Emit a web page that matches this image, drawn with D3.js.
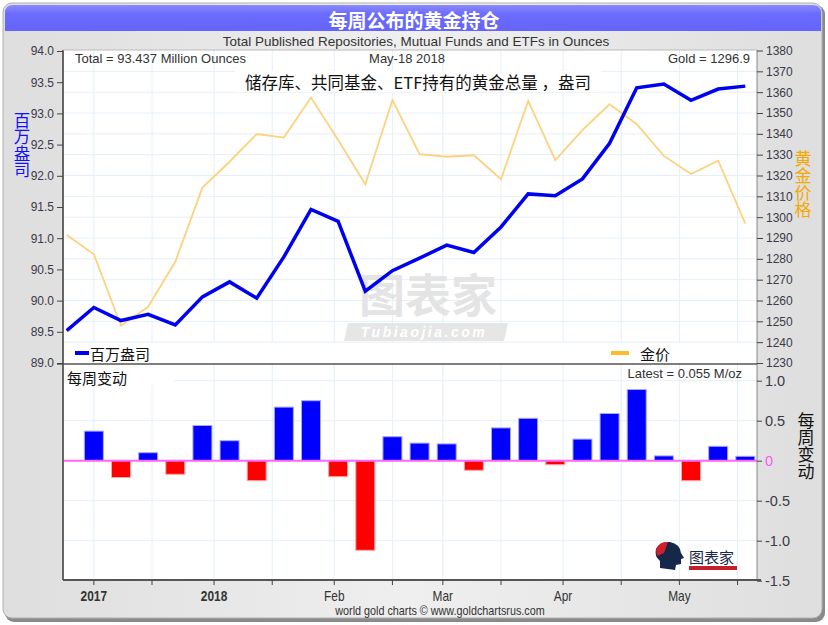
<!DOCTYPE html>
<html><head><meta charset="utf-8">
<script src="https://cdn.jsdelivr.net/npm/d3@7/dist/d3.min.js"></script>
<style>
html,body{margin:0;padding:0;background:#fff;}
svg{display:block;}
text{font-family:"Liberation Sans",Arial,sans-serif;}
.cjk{font-family:"Noto Sans CJK SC","Liberation Sans",sans-serif;}
.vert{writing-mode:vertical-rl;text-orientation:upright;}
</style></head>
<body>
<svg id="c" width="828" height="625"></svg>
<script>
// ---------- data ----------
const dates = ["2017-11-24","2017-12-01","2017-12-08","2017-12-15","2017-12-22","2017-12-29",
  "2018-01-05","2018-01-12","2018-01-19","2018-01-26","2018-02-02","2018-02-09","2018-02-16",
  "2018-02-23","2018-03-02","2018-03-09","2018-03-16","2018-03-23","2018-03-30","2018-04-06",
  "2018-04-13","2018-04-20","2018-04-27","2018-05-04","2018-05-11","2018-05-18"];
const holdings = [89.52,89.89,89.68,89.78,89.61,90.06,90.30,90.04,90.70,91.46,91.27,90.15,90.48,
  90.68,90.89,90.77,91.18,91.71,91.68,91.95,92.52,93.41,93.47,93.21,93.39,93.437];
const goldPrice = [1291.4,1282.2,1247.9,1257.0,1278.6,1314.2,1326.6,1339.9,1338.2,1357.4,1337.0,
  1315.8,1356.2,1330.2,1329.0,1329.7,1318.2,1355.8,1327.4,1341.8,1354.2,1344.6,1329.4,1320.7,1327.1,1296.9];
const changeDates = dates.slice(1);
const weeklyChange = [0.37,-0.21,0.10,-0.17,0.44,0.25,-0.25,0.67,0.75,-0.20,-1.12,0.30,0.22,0.21,
  -0.12,0.41,0.53,-0.05,0.27,0.59,0.89,0.06,-0.25,0.18,0.055];
const majorTickDates = ["2017-12-01","2018-01-01","2018-02-01","2018-03-01","2018-04-01","2018-05-01"];
const majorTickLabels = ["2017","2018","Feb","Mar","Apr","May"];
const minorTickDates = ["2017-12-16","2018-01-16","2018-02-16","2018-03-16","2018-04-16","2018-05-16"];
const leftTicks = [89.0,89.5,90.0,90.5,91.0,91.5,92.0,92.5,93.0,93.5,94.0];
const rightTicks = [1230,1240,1250,1260,1270,1280,1290,1300,1310,1320,1330,1340,1350,1360,1370,1380];
const lowerTicks = [1.0,0.5,0,-0.5,-1.0,-1.5];
const lowerTickLabels = ["1.0","0.5","0","-0.5","-1.0","-1.5"];

// ---------- setup ----------
const parse = d3.utcParse("%Y-%m-%d");
const svg = d3.select("#c");
const L = 63, R = 757, T1 = 50, B1 = 364, B2 = 580;

const x = d3.scaleUtc().domain([parse(dates[0]), parse(dates[dates.length-1])]).range([66.7, 745.3]);
const yL = d3.scaleLinear().domain([89, 94]).range([363, 51]);
const yR = d3.scaleLinear().domain([1230, 1380]).range([363, 50.5]);
const yB = d3.scaleLinear().domain([-1.5, 1.0]).range([580.7, 380.7]);

// ---------- frame ----------
const defs = svg.append("defs");
const bg = defs.append("linearGradient").attr("id","bg").attr("x1",0).attr("y1",0).attr("x2",1).attr("y2",0);
bg.append("stop").attr("offset","0%").attr("stop-color","#dedede");
bg.append("stop").attr("offset","50%").attr("stop-color","#efefef");
bg.append("stop").attr("offset","100%").attr("stop-color","#dedede");
const tb = defs.append("linearGradient").attr("id","tb").attr("x1",0).attr("y1",0).attr("x2",0).attr("y2",1);
tb.append("stop").attr("offset","0%").attr("stop-color","#8a8aff");
tb.append("stop").attr("offset","35%").attr("stop-color","#6b6bff");
tb.append("stop").attr("offset","100%").attr("stop-color","#6464fa");

svg.append("rect").attr("x",5).attr("y",5).attr("width",820).attr("height",617).attr("rx",9).attr("fill","#8a8a8a");
svg.append("rect").attr("x",3).attr("y",3).attr("width",819).attr("height",615).attr("rx",9)
  .attr("fill","url(#bg)").attr("stroke","#b0b0b0").attr("stroke-width",1);
svg.append("path").attr("d","M5,31 L5,13 Q5,5 13,5 L813,5 Q821,5 821,13 L821,31 Z").attr("fill","url(#tb)");
svg.append("text").attr("class","cjk").attr("x",414).attr("y",19).attr("text-anchor","middle")
  .attr("dominant-baseline","central").attr("fill","#fff").attr("font-size",19).attr("font-weight","bold")
  .text("每周公布的黄金持仓");
svg.append("text").attr("x",416).attr("y",46).attr("text-anchor","middle").attr("fill","#333")
  .attr("font-size",13.5).text("Total Published Repositories, Mutual Funds and ETFs in Ounces");

// plot backgrounds
svg.append("rect").attr("x",L).attr("y",T1).attr("width",R-L).attr("height",B2-T1).attr("fill","#fff");

const gridC = "#e4f0f8";
const allGridDates = majorTickDates.concat(minorTickDates).map(parse);
// top grid
svg.append("g").selectAll("line").data(rightTicks.slice(1,-1)).join("line")
  .attr("x1",L).attr("x2",R).attr("y1",d=>yR(d)).attr("y2",d=>yR(d)).attr("stroke",gridC).attr("stroke-width",1);
svg.append("g").selectAll("line").data(allGridDates).join("line")
  .attr("x1",d=>x(d)).attr("x2",d=>x(d)).attr("y1",T1).attr("y2",B1).attr("stroke",gridC).attr("stroke-width",1);
// bottom grid
svg.append("g").selectAll("line").data([1.0,0.5,-0.5,-1.0]).join("line")
  .attr("x1",L).attr("x2",R).attr("y1",d=>yB(d)).attr("y2",d=>yB(d)).attr("stroke",gridC).attr("stroke-width",1);
svg.append("g").selectAll("line").data(allGridDates).join("line")
  .attr("x1",d=>x(d)).attr("x2",d=>x(d)).attr("y1",B1).attr("y2",B2).attr("stroke",gridC).attr("stroke-width",1);

// white bands
svg.append("rect").attr("x",L+1).attr("y",343).attr("width",R-L-2).attr("height",20).attr("fill","#fff");
svg.append("rect").attr("x",L+1).attr("y",B1+1).attr("width",110).attr("height",20).attr("fill","#fff");

// watermark
const wm = svg.append("g").attr("opacity",0.9);
wm.append("text").attr("class","cjk").attr("x",428).attr("y",312).attr("text-anchor","middle")
  .attr("font-size",46).attr("fill","#e2e2e2").attr("font-weight","bold").text("图表家");
wm.append("path").attr("d","M348,323 L508,323 L504,341 L344,341 Z").attr("fill","#e4e4e4");
wm.append("text").attr("x",424).attr("y",337).attr("text-anchor","middle").attr("font-size",14)
  .attr("font-style","italic").attr("font-weight","bold").attr("letter-spacing",2.5).attr("fill","#fff").text("Tubiaojia.com");

// annotation box
svg.append("rect").attr("x",235).attr("y",71).attr("width",366).attr("height",21).attr("fill","#fff");
svg.append("text").attr("class","cjk").attr("x",418).attr("y",82).attr("text-anchor","middle")
  .attr("dominant-baseline","central").attr("font-size",16.5).attr("fill","#111")
  .text("储存库、共同基金、ETF持有的黄金总量 ，盎司");

// lines
const gold = d3.line().x((d,i)=>x(parse(dates[i]))).y(d=>yR(d));
svg.append("path").datum(goldPrice).attr("d",gold).attr("fill","none").attr("stroke","#fcd27e").attr("stroke-width",1.8);
const hold = d3.line().x((d,i)=>x(parse(dates[i]))).y(d=>yL(d));
svg.append("path").datum(holdings).attr("d",hold).attr("fill","none").attr("stroke","#0000f0")
  .attr("stroke-width",3.5).attr("stroke-linejoin","miter");

// header texts
svg.append("text").attr("x",75).attr("y",63).attr("font-size",13).attr("fill","#333").text("Total = 93.437 Million Ounces");
svg.append("text").attr("x",407).attr("y",63).attr("text-anchor","middle").attr("font-size",13).attr("fill","#333").text("May-18  2018");
svg.append("text").attr("x",750).attr("y",63).attr("text-anchor","end").attr("font-size",13).attr("fill","#333").text("Gold = 1296.9");

// legend
svg.append("line").attr("x1",75).attr("x2",89).attr("y1",353).attr("y2",353).attr("stroke","#0000f0").attr("stroke-width",4);
svg.append("text").attr("class","cjk").attr("x",90).attr("y",353).attr("dominant-baseline","central")
  .attr("font-size",15).attr("fill","#111").text("百万盎司");
svg.append("line").attr("x1",611).attr("x2",629).attr("y1",353).attr("y2",353).attr("stroke","#fdbd2a").attr("stroke-width",4);
svg.append("text").attr("class","cjk").attr("x",640).attr("y",353).attr("dominant-baseline","central")
  .attr("font-size",15).attr("fill","#111").text("金价");

// bars
svg.append("g").selectAll("rect").data(weeklyChange).join("rect")
  .attr("x",(d,i)=>x(parse(changeDates[i]))-9.5).attr("width",19)
  .attr("y",d=>yB(Math.max(0,d))).attr("height",d=>Math.abs(yB(d)-yB(0)))
  .attr("fill",d=>d>=0?"#0000ff":"#ff0000")
  .attr("stroke",d=>d>=0?"#a8a8ff":"#ffa8a8").attr("stroke-width",1);
svg.append("line").attr("x1",L).attr("x2",R).attr("y1",yB(0)).attr("y2",yB(0)).attr("stroke","#ff66ff").attr("stroke-width",2);

// lower panel texts
svg.append("text").attr("class","cjk").attr("x",67).attr("y",377).attr("dominant-baseline","central")
  .attr("font-size",15).attr("fill","#111").text("每周变动");
svg.append("text").attr("x",742).attr("y",378).attr("text-anchor","end").attr("font-size",13).attr("fill","#333").text("Latest = 0.055 M/oz");

// logo
const lg = svg.append("g");
lg.append("path").attr("d","M660,568 L660,561 Q654,556 656,549 Q660,541 670,542 Q680,544 681,553 L684,558 L681,559 L681,564 L676,565 L675,570 Z").attr("fill","#15284a");
lg.append("path").attr("d","M656,549 Q660,541 668,542 L664,553 L657,556 Z").attr("fill","#d0202a");
lg.append("text").attr("class","cjk").attr("x",689).attr("y",563).attr("font-size",15).attr("fill","#15284a").text("图表家");
lg.append("rect").attr("x",689).attr("y",566).attr("width",48).attr("height",4).attr("fill","#c81e28");

// axes frame lines
svg.append("line").attr("x1",L).attr("x2",L).attr("y1",T1).attr("y2",B2).attr("stroke","#666").attr("stroke-width",2);
svg.append("line").attr("x1",R).attr("x2",R).attr("y1",T1).attr("y2",B2).attr("stroke","#888").attr("stroke-width",1);
svg.append("line").attr("x1",L).attr("x2",R).attr("y1",T1).attr("y2",T1).attr("stroke","#bbb").attr("stroke-width",1);
svg.append("line").attr("x1",L-6).attr("x2",R).attr("y1",B1).attr("y2",B1).attr("stroke","#555").attr("stroke-width",1.5);
svg.append("line").attr("x1",L).attr("x2",R+4).attr("y1",B2).attr("y2",B2).attr("stroke","#555").attr("stroke-width",2);

// left axis
const axL = d3.axisLeft(yL).tickValues(leftTicks).tickFormat(d3.format(".1f")).tickSize(6).tickPadding(3);
const gL = svg.append("g").attr("transform",`translate(${L},0)`).call(axL);
gL.select(".domain").remove();
gL.selectAll("line").attr("stroke","#444");
gL.selectAll("text").attr("font-size",12).attr("fill","#3a3a48").attr("font-family","Liberation Sans, Arial");

// right axis top
const axR = d3.axisRight(yR).tickValues(rightTicks).tickFormat(d3.format("d")).tickSize(6).tickPadding(3);
const gR = svg.append("g").attr("transform",`translate(${R},0)`).call(axR);
gR.select(".domain").remove();
gR.selectAll("line").attr("stroke","#444");
gR.selectAll("text").attr("font-size",12).attr("fill","#3a3a48").attr("font-family","Liberation Sans, Arial");

// right axis bottom
const axB = d3.axisRight(yB).tickValues(lowerTicks).tickFormat((d,i)=>lowerTickLabels[i]).tickSize(5).tickPadding(3);
const gB = svg.append("g").attr("transform",`translate(${R},0)`).call(axB);
gB.select(".domain").remove();
gB.selectAll("line").attr("stroke","#444");
gB.selectAll("text").attr("font-size",14.5).attr("fill",d=>d===0?"#ff55ff":"#3a3a48").attr("font-family","Liberation Sans, Arial");

// x axis
const gX = svg.append("g").attr("transform",`translate(0,${B2})`);
gX.selectAll("line").data(allGridDates).join("line")
  .attr("x1",d=>x(d)).attr("x2",d=>x(d)).attr("y1",0).attr("y2",5).attr("stroke","#444");
gX.selectAll("text").data(majorTickDates).join("text")
  .attr("x",d=>x(parse(d))).attr("y",21).attr("text-anchor","middle").attr("font-size",14)
  .attr("font-weight",(d,i)=>i<2?"bold":"normal").attr("fill","#333")
  .attr("transform",d=>`translate(${x(parse(d))},0) scale(0.85,1) translate(${-x(parse(d))},0)`)
  .text((d,i)=>majorTickLabels[i]);

// footer
svg.append("text").attr("x",440).attr("y",615).attr("text-anchor","middle").attr("font-size",12).attr("fill","#333")
  .attr("transform","translate(440,0) scale(0.9,1) translate(-440,0)")
  .text("world gold charts © www.goldchartsrus.com");

// axis titles (vertical)
function vtext(str, cx, y0, size, color){
  svg.append("text").attr("class","cjk vert").attr("x",cx).attr("y",y0)
    .attr("font-size",size).attr("fill",color).text(str);
}
vtext("百万盎司", 22, 112, 16.5, "#1010ff");
vtext("黄金价格", 803, 150, 17, "#f5a800");
vtext("每周变动", 806, 412, 17, "#111");
</script>
</body></html>
